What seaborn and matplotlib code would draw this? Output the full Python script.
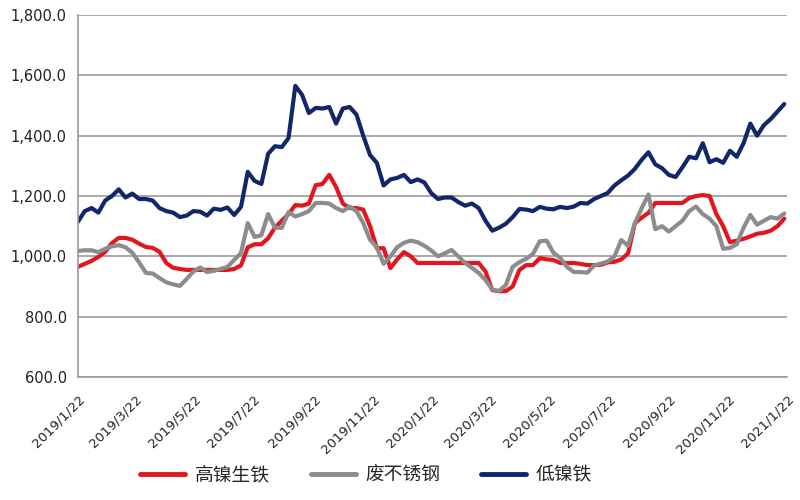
import pandas as pd
import matplotlib
matplotlib.use("Agg")
import matplotlib.pyplot as plt
import seaborn as sns

# ============ Data (weekly samples) ============
dates = pd.date_range("2019-01-22", periods=105, freq="7D")

high_ni_pig_iron = [
    965, 975, 985, 998, 1015, 1044, 1061, 1061, 1055, 1042,
    1031, 1028, 1015, 978, 962, 958, 955, 955, 955, 955,
    955, 955, 955, 958, 970, 1030, 1040, 1040, 1060, 1095,
    1118, 1140, 1170, 1168, 1175, 1236, 1240, 1270, 1230, 1175,
    1160, 1160, 1155, 1100, 1027, 1027, 961, 990, 1014, 1000,
    978, 978, 978, 978, 978, 978, 978, 978, 978, 978,
    950, 888, 884, 885, 900, 955, 971, 971, 994, 990,
    988, 978, 978, 978, 975, 971, 971, 972, 980, 982,
    990, 1010, 1110, 1128, 1144, 1177, 1177, 1177, 1177, 1177,
    1193, 1200, 1203, 1200, 1140, 1100, 1047, 1052, 1058, 1066,
    1075, 1078, 1085, 1100, 1125,
]

scrap_stainless = [
    1018, 1020, 1020, 1014, 1025, 1033, 1037, 1030, 1012, 980,
    945, 943, 928, 914, 907, 902, 925, 950, 963, 948,
    952, 958, 965, 988, 1011, 1110, 1064, 1070, 1140, 1095,
    1094, 1147, 1132, 1140, 1150, 1177, 1177, 1175, 1160, 1150,
    1165, 1150, 1110, 1055, 1030, 975, 1000, 1030, 1045, 1052,
    1047, 1035, 1020, 1000, 1010, 1021, 1000, 978, 962, 945,
    922, 890, 885, 905, 965, 981, 992, 1008, 1050, 1052,
    1012, 995, 965, 948, 948, 946, 970, 976, 983, 1000,
    1054, 1035, 1110, 1160, 1205, 1090, 1100, 1082, 1100, 1118,
    1150, 1165, 1140, 1125, 1100, 1025, 1028, 1040, 1095, 1137,
    1105, 1118, 1130, 1125, 1142,
]

low_ni_iron = [
    1115, 1150, 1160, 1145, 1185, 1200, 1222, 1195, 1208, 1190,
    1190, 1185, 1160, 1150, 1145, 1130, 1135, 1150, 1148, 1135,
    1158, 1154, 1162, 1137, 1164, 1280, 1250, 1240, 1340, 1365,
    1362, 1392, 1565, 1535, 1475, 1492, 1490, 1495, 1440, 1490,
    1495, 1470, 1400, 1336, 1310, 1235, 1255, 1260, 1270, 1246,
    1255, 1245, 1210, 1190, 1195, 1195, 1180, 1168, 1175, 1160,
    1118, 1085, 1095, 1108, 1130, 1157, 1155, 1150, 1164, 1158,
    1156, 1164, 1160, 1165, 1177, 1175, 1190, 1200, 1210, 1235,
    1252, 1268, 1290, 1320, 1345, 1305, 1292, 1270, 1263, 1295,
    1330, 1325, 1375, 1312, 1322, 1310, 1350, 1330, 1375, 1440,
    1400, 1435, 1455, 1480, 1505,
]

series_names = ["高镍生铁", "废不锈钢", "低镍铁"]
series_colors = ["#e3161d", "#8c8c8c", "#12266b"]

tick_dates = pd.to_datetime([
    "2019-01-22", "2019-03-22", "2019-05-22", "2019-07-22", "2019-09-22",
    "2019-11-22", "2020-01-22", "2020-03-22", "2020-05-22", "2020-07-22",
    "2020-09-22", "2020-11-22", "2021-01-22",
])
tick_labels = [
    "2019/1/22", "2019/3/22", "2019/5/22", "2019/7/22", "2019/9/22",
    "2019/11/22", "2020/1/22", "2020/3/22", "2020/5/22", "2020/7/22",
    "2020/9/22", "2020/11/22", "2021/1/22",
]
y_ticks = [600, 800, 1000, 1200, 1400, 1600, 1800]

# ============ Long-form table ============
df = pd.concat([
    pd.DataFrame({"date": dates, "price": vals, "series": name})
    for name, vals in zip(series_names, [high_ni_pig_iron, scrap_stainless, low_ni_iron])
], ignore_index=True)

# ============ Plot ============
sns.set_style("white")
plt.rcParams["font.family"] = ["DejaVu Sans", "Noto Sans CJK SC"]

fig = plt.figure(figsize=(8, 5), dpi=100)
ax = fig.add_axes([0.0975, 0.246, 0.8865, 0.724])

sns.lineplot(
    data=df, x="date", y="price", hue="series",
    hue_order=series_names, palette=dict(zip(series_names, series_colors)),
    linewidth=3, ax=ax, legend=False,
)

ax.set_xlim(tick_dates[0], tick_dates[-1])
ax.set_ylim(600, 1800)
ax.set_yticks(y_ticks)
ax.set_yticklabels([f"{v:,.1f}" for v in y_ticks], fontsize=10.5, color="#222222")
ax.set_xticks(tick_dates)
ax.set_xticklabels(tick_labels, rotation=45, ha="right", va="top",
                   rotation_mode="anchor", fontsize=9.5, color="#222222")
ax.set_xlabel("")
ax.set_ylabel("")

ax.yaxis.grid(True, color="#9a9a9a", linewidth=1.2)
ax.set_axisbelow(True)
for side in ["top", "right"]:
    ax.spines[side].set_visible(False)
for side in ["left", "bottom"]:
    ax.spines[side].set_color("#9a9a9a")
    ax.spines[side].set_linewidth(1.2)
ax.tick_params(axis="x", direction="out", length=5, width=1.2, color="#9a9a9a", pad=6)
ax.tick_params(axis="y", length=0, pad=8)

handles = [plt.Line2D([0], [0], color=c, linewidth=3.5) for c in series_colors]
fig.legend(handles, series_names, loc="center left", bbox_to_anchor=(0.154, 0.05), ncol=3,
           frameon=False, handlelength=2.4, handletextpad=0.5, columnspacing=2.2,
           prop={"family": ["Noto Sans CJK SC"], "size": 13.5})

fig.savefig("out.png", dpi=100)
